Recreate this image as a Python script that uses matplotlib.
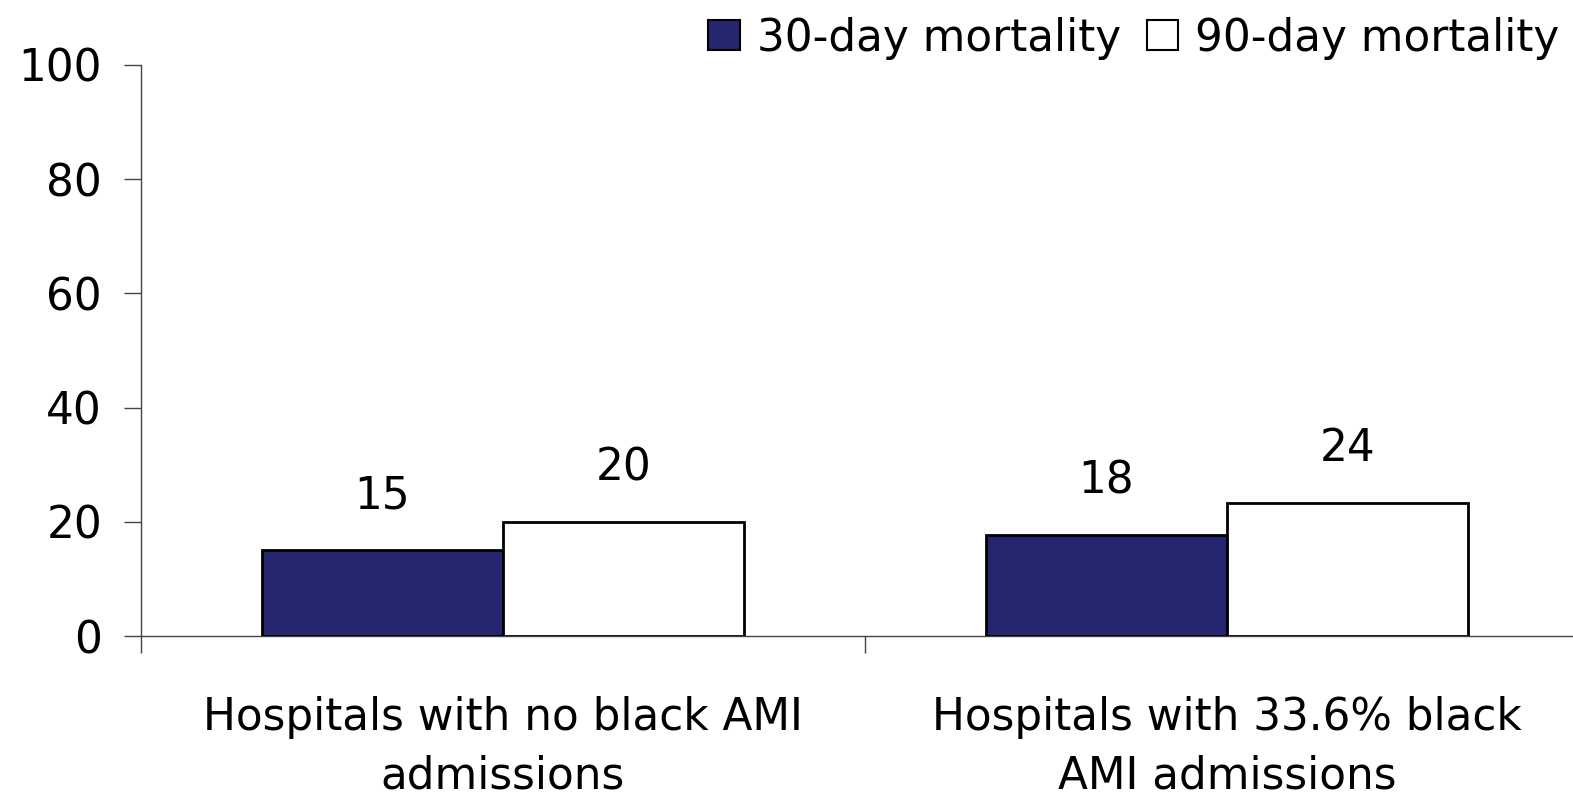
import matplotlib
matplotlib.use("Agg")
import matplotlib.pyplot as plt
import matplotlib.patches as mpatches
import numpy as np

categories = ["Hospitals with no black AMI\nadmissions",
              "Hospitals with 33.6% black\nAMI admissions"]
series_names = ["30-day mortality", "90-day mortality"]
mort_30 = [15.0, 17.7]
mort_90 = [20.0, 23.3]
labels_30 = ["15", "18"]
labels_90 = ["20", "24"]
y_ticks = [0, 20, 40, 60, 80, 100]

NAVY = "#262670"
FS = 31.5

plt.rcParams["font.family"] = ["DejaVu Sans"]

fig = plt.figure(figsize=(15.73, 7.94), dpi=100)
ax = fig.add_axes([141 / 1573, 158 / 794, (1589 - 141) / 1573, (636 - 65) / 794])

x = np.arange(len(categories))
w = 1 / 3
b1 = ax.bar(x - w / 2, mort_30, width=w, color=NAVY, edgecolor="black", linewidth=2, zorder=3)
b2 = ax.bar(x + w / 2, mort_90, width=w, color="white", edgecolor="black", linewidth=2, zorder=3)

# value labels floating above each bar
for bars, labs in ((b1, labels_30), (b2, labels_90)):
    for rect, lab in zip(bars, labs):
        ax.annotate(lab, (rect.get_x() + rect.get_width() / 2, rect.get_height()),
                    xytext=(0, 39), textcoords="offset points",
                    ha="center", va="center", fontsize=FS)

ax.set_xlim(-0.5, len(categories) - 0.5)
ax.set_ylim(0, 100)
ax.set_yticks(y_ticks)
ax.set_yticklabels([str(v) for v in y_ticks], fontsize=FS)

# ticks sit on category boundaries, labels in the middle
bounds = np.arange(len(categories) + 1) - 0.5
ax.set_xticks(bounds, labels=[""] * len(bounds))
ax.set_xticks(x, minor=True)
ax.set_xticklabels(categories, minor=True, fontsize=FS, linespacing=1.45)
ax.tick_params(axis="x", which="major", direction="out", length=12, width=1, color="#444444")
ax.tick_params(axis="x", which="minor", length=0, pad=43)
ax.tick_params(axis="y", direction="out", length=12, width=1, color="#444444", pad=16)

for s in ("top", "right"):
    ax.spines[s].set_visible(False)
for s in ("left", "bottom"):
    ax.spines[s].set_color("#444444")
    ax.spines[s].set_linewidth(1)

handles = [mpatches.Patch(facecolor=NAVY, edgecolor="black", linewidth=1.5, label=series_names[0]),
           mpatches.Patch(facecolor="white", edgecolor="black", linewidth=1.5, label=series_names[1])]
fig.legend(handles=handles, loc="upper right", bbox_to_anchor=(1.008, 1.012), ncol=2,
           frameon=False, fontsize=FS, handlelength=0.72, handleheight=0.68,
           handletextpad=0.38, columnspacing=0.6, borderaxespad=0.2)

fig.savefig("out.png", dpi=100)
